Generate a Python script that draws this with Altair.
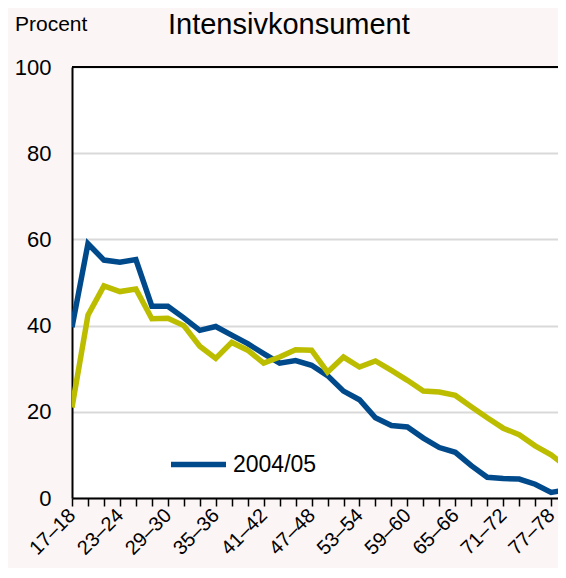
import altair as alt
import pandas as pd

age_labels = ["17–18", "19–20", "21–22", "23–24", "25–26", "27–28", "29–30", "31–32",
              "33–34", "35–36", "37–38", "39–40", "41–42", "43–44", "45–46", "47–48",
              "49–50", "51–52", "53–54", "55–56", "57–58", "59–60", "61–62", "63–64",
              "65–66", "67–68", "69–70", "71–72", "73–74", "75–76", "77–78", "79–80"]

blue_2004 = [39.6, 59.0, 55.2, 54.7, 55.3, 44.5, 44.5, 41.8, 38.9, 39.8, 37.8, 35.8,
             33.5, 31.3, 31.9, 30.8, 28.4, 24.8, 22.8, 18.6, 16.8, 16.5, 13.9, 11.7,
             10.6, 7.5, 4.8, 4.5, 4.4, 3.2, 1.3, 1.9]
yellow_other = [21.0, 42.4, 49.2, 47.9, 48.5, 41.6, 41.7, 40.0, 35.2, 32.4, 36.1, 34.3,
                31.3, 32.7, 34.4, 34.3, 29.2, 32.7, 30.4, 31.8, 29.6, 27.3, 24.8, 24.6,
                23.8, 21.2, 18.6, 16.2, 14.7, 12.1, 10.0, 7.2]

series_names = ["2004/05", "Jämförelseår"]
series_colors = ["#004A8C", "#BDBD00"]

rows = []
for i, lab in enumerate(age_labels):
    rows.append({"idx": i, "ålder": lab, "serie": series_names[0], "procent": blue_2004[i]})
    rows.append({"idx": i, "ålder": lab, "serie": series_names[1], "procent": yellow_other[i]})
df = pd.DataFrame(rows)

js_labels = "[" + ",".join("'" + s + "'" for s in age_labels) + "]"
label_expr = "datum.value % 3 == 0 ? " + js_labels + "[datum.value] : ''"

FONT = "Liberation Sans"
W, H = 486, 431

lines = alt.Chart(df).mark_line(strokeWidth=5.5, clip=True).encode(
    x=alt.X("idx:Q",
            scale=alt.Scale(domain=[0, 30.43], nice=False, zero=False),
            axis=alt.Axis(values=list(range(31)), labelExpr=label_expr, title=None,
                          grid=False, labelAngle=-45, labelAlign="right",
                          labelBaseline="middle", labelPadding=6, labelFontSize=20,
                          labelFontWeight="normal",
                          labelColor="black", labelFont=FONT, labelOverlap=False,
                          domainColor="black", domainWidth=2,
                          tickColor="black", tickSize=8, tickWidth=1.5)),
    y=alt.Y("procent:Q",
            scale=alt.Scale(domain=[0, 100], nice=False),
            axis=alt.Axis(values=[0, 20, 40, 60, 80, 100], title=None, ticks=False,
                          tickSize=0, labelPadding=21, labelFontSize=22,
                          labelFontWeight="normal",
                          labelColor="black", labelFont=FONT,
                          domainColor="black", domainWidth=2,
                          grid=True, gridColor="#D9D9D9", gridWidth=2)),
    color=alt.Color("serie:N",
                    scale=alt.Scale(domain=series_names, range=series_colors),
                    legend=alt.Legend(values=[series_names[0]], title=None,
                                      orient="none", legendX=96, legendY=367,
                                      symbolType="stroke", symbolSize=3025,
                                      symbolStrokeWidth=5.5, labelFontSize=23,
                                      labelFont=FONT, labelColor="black",
                                      labelOffset=4)),
    order="idx:Q",
)

top_rule = alt.Chart(pd.DataFrame({"y": [100]})).mark_rule(
    color="black", strokeWidth=2).encode(y="y:Q")

unit_text = alt.Chart(pd.DataFrame({"t": ["Procent"]})).mark_text(
    align="left", baseline="alphabetic", fontSize=21, font=FONT, color="black"
).encode(text="t:N", x=alt.value(-57), y=alt.value(-36))

title_text = alt.Chart(pd.DataFrame({"t": ["Intensivkonsument"]})).mark_text(
    align="left", baseline="alphabetic", fontSize=29, font=FONT, color="black"
).encode(text="t:N", x=alt.value(96), y=alt.value(-33))

chart = alt.layer(lines, top_rule, unit_text, title_text).properties(
    width=W, height=H,
    autosize="none",
    padding={"left": 64, "top": 59, "right": 0, "bottom": 70},
    background="#FBF5F5",
).configure_view(fill="white", stroke=None)

chart.save("out.html", embed_options={"renderer": "svg", "actions": False})
